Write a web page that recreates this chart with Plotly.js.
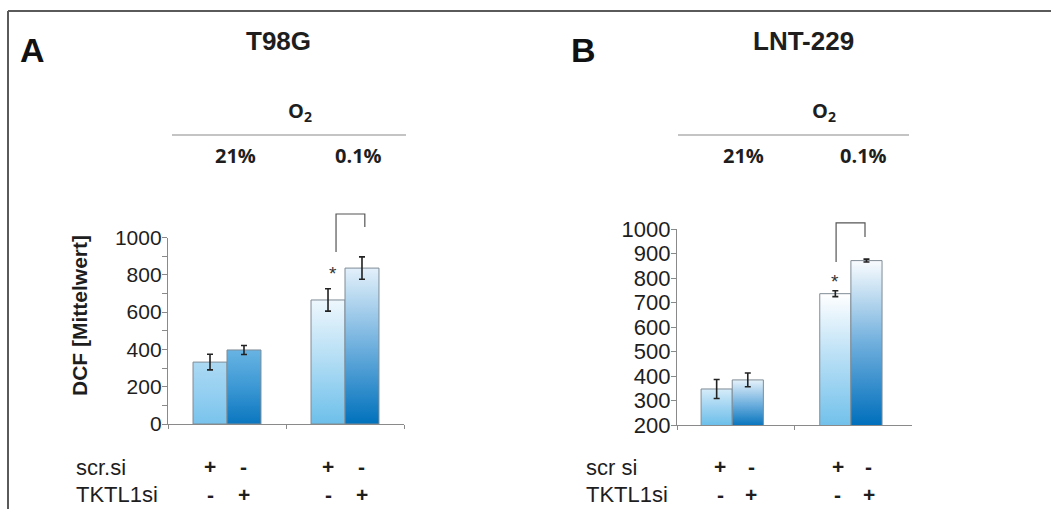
<!DOCTYPE html>
<html>
<head>
<meta charset="utf-8">
<script src="https://cdn.plot.ly/plotly-3.0.1.min.js"></script>
<style>html,body{margin:0;padding:0;background:#fff}#chart{width:1051px;height:509px}</style>
</head>
<body>
<div id="chart"></div>
<script>
// ---------- data ----------
const categories = ['21%', '0.1%'];
const seriesNames = ['scr.si', 'TKTL1si'];

// Panel A: T98G
const t98gScr = [332, 665];
const t98gScrErr = [42, 60];
const t98gTktl = [397, 836];
const t98gTktlErr = [24, 60];

// Panel B: LNT-229
const lntScr = [347, 736];
const lntScrErr = [39, 12];
const lntTktl = [384, 871];
const lntTktlErr = [28, 6];

const scrSigns = ['+', '-', '+', '-'];
const tktlSigns = ['-', '+', '-', '+'];

// ---------- style ----------
const W = 1051, H = 509;
const px = v => v / W;
const py = v => 1 - v / H;
const FONT = 'Liberation Sans, Arial, sans-serif';
const FONT2 = 'Open Sans, sans-serif';
const INK = '#1e1e1e';
const AXC = '#8a8a8a';

// gradient [top, middle, bottom] per trace index, per point
const gradients = [
  [['#acd9f3', '#94cff1', '#79c3ec'], ['#eef7fd', '#b0dcf4', '#6cbfea']],   // A scr
  [['#68b4e3', '#3c98d4', '#0a76bf'], ['#e3f0fa', '#6fb0de', '#0071bc']],   // A TKTL1
  [['#d6ecf9', '#9fd3f1', '#6cbfea'], ['#ffffff', '#b6def5', '#72c1eb']],   // B scr
  [['#e6f2fb', '#76b4e0', '#0a76bf'], ['#f9fcfe', '#70afdd', '#006fbc']]    // B TKTL1
];

function barTrace(y, err, xa, ya, name) {
  return {
    type: 'bar', x: categories, y: y, name: name, xaxis: xa, yaxis: ya,
    marker: { color: '#9fd3f0', line: { color: '#7f8c96', width: 1 } },
    error_y: { type: 'data', array: err, visible: true, color: '#222', thickness: 1.6, width: 3 },
    showlegend: false, hoverinfo: 'none'
  };
}

const data = [
  barTrace(t98gScr, t98gScrErr, 'x', 'y', seriesNames[0]),
  barTrace(t98gTktl, t98gTktlErr, 'x', 'y', seriesNames[1]),
  barTrace(lntScr, lntScrErr, 'x2', 'y2', seriesNames[0]),
  barTrace(lntTktl, lntTktlErr, 'x2', 'y2', seriesNames[1])
];

const xCommon = {
  type: 'category', range: [-0.5, 1.5], showticklabels: false, showgrid: false, zeroline: false,
  showline: true, linecolor: AXC, linewidth: 1.2, ticks: 'outside', tickson: 'boundaries',
  ticklen: 4, tickcolor: AXC, fixedrange: true
};
const yCommon = {
  showgrid: false, zeroline: false, showline: true, linecolor: AXC, linewidth: 1.2,
  ticks: 'outside', ticklen: 5, tickcolor: AXC, ticklabelstandoff: -4,
  fixedrange: true
};

const offA = 0.144, offB = 0.132;

const annotations = [];
function txt(x, y, text, size, opts) {
  annotations.push(Object.assign({
    xref: 'paper', yref: 'paper', x: x, y: y, text: text, showarrow: false,
    xanchor: 'center', yanchor: 'middle',
    font: { family: FONT, size: size, color: INK }
  }, opts || {}));
}
// panel letters and titles
txt(px(32), py(50), '<b>A</b>', 34, { font: { family: FONT, size: 34, color: '#111' } });
txt(px(278), py(41), '<b>T98G</b>', 26);
txt(px(583), py(50), '<b>B</b>', 34, { font: { family: FONT, size: 34, color: '#111' } });
txt(px(803), py(41), '<b>LNT-229</b>', 26);
// O2 headers
[[300, 235, 358], [824, 743, 863]].forEach(r => {
  txt(px(r[0]), py(112), '<b>O<sub>2</sub></b>', 20, { font: { family: FONT2, size: 20, color: INK } });
  txt(px(r[1]), py(155), '<b>' + categories[0] + '</b>', 20, { font: { family: FONT2, size: 20, color: INK } });
  txt(px(r[2]), py(155), '<b>' + categories[1] + '</b>', 20, { font: { family: FONT2, size: 20, color: INK } });
});
// y title
txt(px(79), py(316), '<b>DCF [Mittelwert]</b>', 21, { textangle: -90 });
// row labels
txt(px(74), py(467), 'scr.si', 22, { xanchor: 'left' });
txt(px(74), py(494), seriesNames[1], 22, { xanchor: 'left' });
txt(px(584), py(467), 'scr si', 22, { xanchor: 'left' });
txt(px(584), py(494), seriesNames[1], 22, { xanchor: 'left' });
// +/- signs under bars
function signs(xref, off) {
  const pos = [-off, off, 1 - off, 1 + off];
  pos.forEach((p, i) => {
    annotations.push({ xref: xref, yref: 'paper', x: p, y: py(466), text: '<b>' + scrSigns[i] + '</b>', showarrow: false,
      xanchor: 'center', yanchor: 'middle', font: { family: FONT, size: 21, color: INK } });
    annotations.push({ xref: xref, yref: 'paper', x: p, y: py(494), text: '<b>' + tktlSigns[i] + '</b>', showarrow: false,
      xanchor: 'center', yanchor: 'middle', font: { family: FONT, size: 21, color: INK } });
  });
}
signs('x', offA);
signs('x2', offB);
// asterisks
annotations.push({ xref: 'x', yref: 'y', x: 1 - offA + 0.04, y: 805, text: '*', showarrow: false,
  xanchor: 'center', yanchor: 'middle', font: { family: FONT, size: 19, color: '#333' } });
annotations.push({ xref: 'x2', yref: 'y2', x: 1 - offB - 0.02, y: 785, text: '*', showarrow: false,
  xanchor: 'center', yanchor: 'middle', font: { family: FONT, size: 19, color: '#333' } });

const shapes = [
  // frame
  { type: 'line', xref: 'paper', yref: 'paper', x0: px(8), x1: 1, y0: py(11), y1: py(11), line: { color: '#5a5a5a', width: 2 } },
  { type: 'line', xref: 'paper', yref: 'paper', x0: px(8), x1: px(8), y0: py(11), y1: 0, line: { color: '#5a5a5a', width: 2 } },
  // O2 lines
  { type: 'line', xref: 'paper', yref: 'paper', x0: px(172), x1: px(406), y0: py(135), y1: py(135), line: { color: '#8a8a8a', width: 1.2 } },
  { type: 'line', xref: 'paper', yref: 'paper', x0: px(678), x1: px(909), y0: py(135), y1: py(135), line: { color: '#8a8a8a', width: 1.2 } },
  // brackets (in axis-domain units)
  { type: 'path', xref: 'x domain', yref: 'y domain', path: 'M 0.712 0.922 L 0.712 1.126 L 0.834 1.126 L 0.834 1.056',
    line: { color: '#555', width: 1.2 } },
  { type: 'path', xref: 'x2 domain', yref: 'y2 domain', path: 'M 0.677 0.832 L 0.677 1.031 L 0.8 1.031 L 0.8 0.959',
    line: { color: '#555', width: 1.2 } }
];

const layout = {
  width: W, height: H, margin: { l: 0, r: 0, t: 0, b: 0 },
  paper_bgcolor: '#fff', plot_bgcolor: 'rgba(0,0,0,0)',
  barmode: 'group', showlegend: false,
  xaxis: Object.assign({}, xCommon, { domain: [px(168), px(404)], anchor: 'y' }),
  yaxis: Object.assign({}, yCommon, { domain: [py(424), py(237.5)], range: [0, 1000], dtick: 200,
    tickfont: { family: FONT, size: 21, color: INK },
    minor: { dtick: 100, ticks: 'outside', ticklen: 5, tickcolor: AXC }, anchor: 'x' }),
  xaxis2: Object.assign({}, xCommon, { domain: [px(677), px(912)], anchor: 'y2' }),
  yaxis2: Object.assign({}, yCommon, { domain: [py(425), py(229)], range: [200, 1000], dtick: 100,
    tickfont: { family: FONT, size: 22, color: INK }, anchor: 'x2' }),
  bargap: 0.424,
  annotations: annotations,
  shapes: shapes
};

// narrower bars in panel B
data[2].width = [(1 - 0.47) / 2, (1 - 0.47) / 2];
data[3].width = [(1 - 0.47) / 2, (1 - 0.47) / 2];
data[2].offset = [-(1 - 0.47) / 2 - 0.03, -(1 - 0.47) / 2 - 0.02];
data[3].offset = [-0.03, -0.02];

function applyGradients(gd) {
  const ns = 'http://www.w3.org/2000/svg';
  const svg = gd.querySelector('.main-svg');
  let defs = svg.querySelector('defs');
  if (!defs) { defs = document.createElementNS(ns, 'defs'); svg.insertBefore(defs, svg.firstChild); }
  gd.querySelectorAll('.barlayer .trace').forEach((tr, k) => {
    let ti = k, yaName = k < 2 ? 'yaxis' : 'yaxis2';
    try {
      const t = tr.__data__[0].trace;
      ti = t.index;
      yaName = t.yaxis === 'y' ? 'yaxis' : 'yaxis' + t.yaxis.slice(1);
    } catch (e) {}
    const axLen = gd._fullLayout[yaName]._length;
    tr.querySelectorAll('.point').forEach((pt, pi) => {
      const path = pt.querySelector('path');
      if (!path || !gradients[ti] || !gradients[ti][pi]) return;
      const bb = path.getBBox();
      const id = 'bargrad_' + ti + '_' + pi;
      const g = document.createElementNS(ns, 'linearGradient');
      g.setAttribute('id', id);
      g.setAttribute('gradientUnits', 'userSpaceOnUse');
      g.setAttribute('x1', '0'); g.setAttribute('x2', '0');
      g.setAttribute('y1', String(bb.y)); g.setAttribute('y2', String(axLen));
      const stops = gradients[ti][pi];
      stops.forEach((c, si) => {
        const s = document.createElementNS(ns, 'stop');
        s.setAttribute('offset', String(si / (stops.length - 1)));
        s.setAttribute('stop-color', c);
        g.appendChild(s);
      });
      defs.appendChild(g);
      path.style.fill = 'url(#' + id + ')';
    });
  });
}

Plotly.newPlot('chart', data, layout, { staticPlot: true, displayModeBar: false })
  .then(applyGradients);
</script>
</body>
</html>
